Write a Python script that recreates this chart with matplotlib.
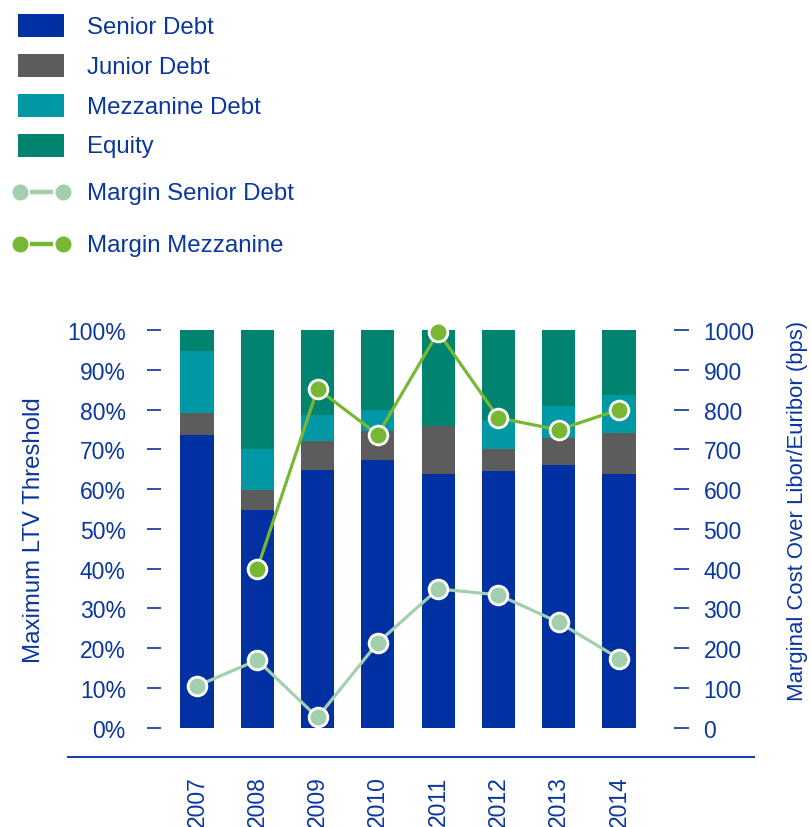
import numpy as np
import matplotlib
matplotlib.use("Agg")
import matplotlib.pyplot as plt
from matplotlib.patches import Rectangle
from matplotlib.lines import Line2D

plt.rcParams['font.family'] = ['Liberation Sans', 'DejaVu Sans']

years = ['2007', '2008', '2009', '2010', '2011', '2012', '2013', '2014']
senior = [73.6, 54.7, 64.8, 67.3, 63.8, 64.6, 66.1, 63.8]
junior = [5.5, 5.1, 7.3, 7.3, 12.0, 5.5, 6.7, 10.4]
mezz = [15.6, 10.3, 6.5, 5.3, 0.0, 7.3, 8.1, 9.5]
equity = [5.3, 29.9, 21.4, 20.1, 24.2, 22.6, 19.1, 16.3]
margin_senior = [105, 170, 26, 214, 349, 334, 265, 174]
margin_mezz = [np.nan, 400, 852, 737, 995, 779, 749, 800]
left_ticks = [0, 10, 20, 30, 40, 50, 60, 70, 80, 90, 100]
right_ticks = [0, 100, 200, 300, 400, 500, 600, 700, 800, 900, 1000]

C_SEN = '#0030a1'
C_JUN = '#5c5c5c'
C_MEZ = '#0098a5'
C_EQU = '#00836f'
C_MS = '#a2d0ae'
C_MM = '#78b733'
TXT = '#0a36a0'
TICK = '#2e50b4'
FS = 16.5
FS_LEG = 17.3

W, H = 812, 828
fig = plt.figure(figsize=(W / 100, H / 100), dpi=100)
ax = fig.add_axes([161 / W, 1 - 728.7 / H, (674 - 161) / W, (728.7 - 331) / H])

x = np.arange(len(years))
bw = 0.55
b = np.zeros(len(years))
for vals, col in [(senior, C_SEN), (junior, C_JUN), (mezz, C_MEZ), (equity, C_EQU)]:
    ax.bar(x, vals, bw, bottom=b, color=col, linewidth=0)
    b = b + np.array(vals)

ax.set_xlim(-0.597, 7.912)
ax.set_ylim(0, 100)
for s in ax.spines.values():
    s.set_visible(False)
ax.set_yticks(left_ticks)
ax.set_yticklabels([f'{v}%' for v in left_ticks])
ax.tick_params(axis='y', direction='out', length=10.3, width=1.4, color=TICK,
               labelcolor=TXT, labelsize=FS, pad=15)
ax.set_xticks(x)
ax.set_xticklabels(years, rotation=90, va='top', ha='center')
ax.tick_params(axis='x', length=0, labelcolor=TXT, labelsize=FS, pad=34.5)

ax2 = ax.twinx()
ax2.set_ylim(0, 1000)
for s in ax2.spines.values():
    s.set_visible(False)
ax2.set_yticks(right_ticks)
ax2.set_yticklabels([str(v) for v in right_ticks])
ax2.tick_params(axis='y', direction='out', length=10.8, width=1.4, color=TICK,
                labelcolor=TXT, labelsize=FS, pad=10.5)

ax2.plot(x, margin_senior, color=C_MS, lw=2.3, marker='o', ms=13.5,
         mfc=C_MS, mec='white', mew=2, clip_on=False, zorder=5)
ax2.plot(x, margin_mezz, color=C_MM, lw=2.3, marker='o', ms=13.5,
         mfc=C_MM, mec='white', mew=2, clip_on=False, zorder=6)

# axis titles
fig.text(34 / W, 1 - 530 / H, 'Maximum LTV Threshold', rotation=90,
         ha='center', va='center', color=TXT, fontsize=17.3)
fig.text(798 / W, 1 - 511 / H, 'Marginal Cost Over Libor/Euribor (bps)', rotation=90,
         ha='center', va='center', color=TXT, fontsize=15.9)

# bottom baseline
fig.add_artist(Line2D([68 / W, 754 / W], [1 - 758 / H, 1 - 758 / H],
                      color='#1a3fa8', lw=1.5, transform=fig.transFigure))

# legend
def fx(px):
    return px / W

def fy(py):
    return 1 - py / H

patch_items = [('Senior Debt', C_SEN, 15, 34), ('Junior Debt', C_JUN, 55, 74),
               ('Mezzanine Debt', C_MEZ, 95, 113.5), ('Equity', C_EQU, 135, 153.3)]
for label, col, top, base in patch_items:
    fig.add_artist(Rectangle((fx(18), fy(top + 23)), 46 / W, 23 / H, color=col,
                             transform=fig.transFigure, lw=0))
    fig.text(fx(87), fy(base), label, color=TXT, fontsize=FS_LEG, va='baseline', ha='left')

line_items = [('Margin Senior Debt', C_MS, 193.3, 200), ('Margin Mezzanine', C_MM, 245, 251.7)]
for label, col, cy, base in line_items:
    fig.add_artist(Line2D([fx(30), fx(53)], [fy(cy), fy(cy)], color=col, lw=3.2,
                          solid_capstyle='butt', transform=fig.transFigure))
    fig.add_artist(Line2D([fx(20), fx(62.7)], [fy(cy), fy(cy)], color=col, lw=0,
                          marker='o', ms=10.5, mec=col, mfc=col,
                          transform=fig.transFigure))
    fig.text(fx(87), fy(base), label, color=TXT, fontsize=FS_LEG, va='baseline', ha='left')

fig.savefig('out.png', dpi=100)
